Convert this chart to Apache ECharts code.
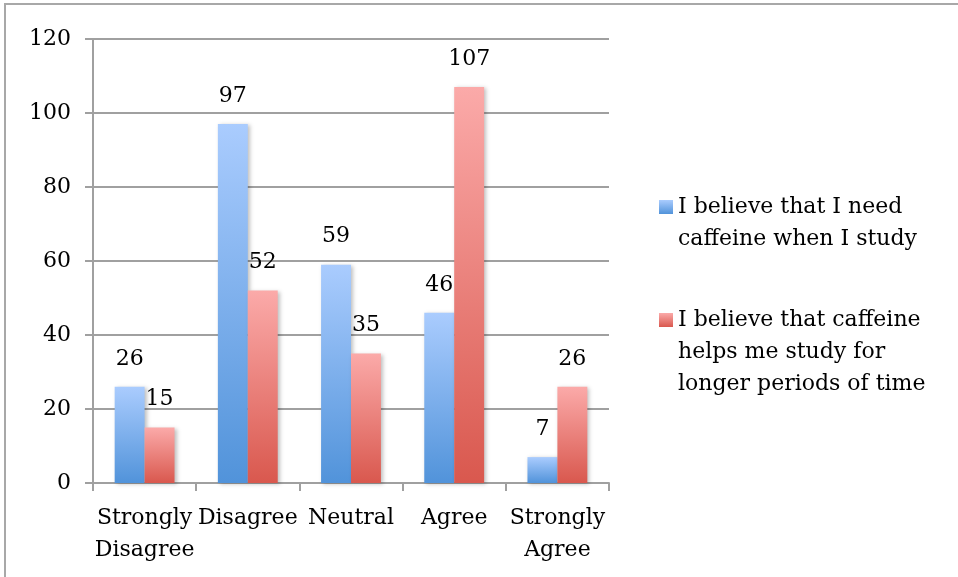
<!DOCTYPE html>
<html><head><meta charset="utf-8">
<script src="https://cdn.jsdelivr.net/npm/echarts@6/dist/echarts.min.js"></script>
<style>html,body{margin:0;padding:0;background:#fff}#c{width:958px;height:577px}</style>
</head><body><div id="c"></div>
<script>
var categories = ['Strongly\nDisagree', 'Disagree', 'Neutral', 'Agree', 'Strongly\nAgree'];
var seriesNames = ['I believe that I need caffeine when I study', 'I believe that caffeine helps me study for longer periods of time'];
var legendLabels = ['I believe that I need\ncaffeine when I study', 'I believe that caffeine\nhelps me study for\nlonger periods of time'];
var needValues = [26, 97, 59, 46, 7];
var helpsValues = [15, 52, 35, 107, 26];
var yTicks = [0, 20, 40, 60, 80, 100, 120];

var FONT = 'DejaVu Serif';
var FS = 22;
var grad = function (a, b) {
  return new echarts.graphic.LinearGradient(0, 0, 0, 1, [{offset: 0, color: a}, {offset: 1, color: b}]);
};
var colors = [grad('#AACCFE', '#5193DA'), grad('#FBAAA9', '#D9584E')];
var iconColors = [grad('#AACCFE', '#5193DA'), grad('#FBAAA9', '#D9584E')];

function mkLegend(i, top) {
  var lines = legendLabels[i].split('\n').length;
  var pad = new Array(lines).join('\n');
  return {
    left: 659, top: top, padding: 0, orient: 'vertical',
    itemWidth: 14, itemHeight: 14, itemGap: 0,
    icon: 'rect',
    data: [{name: seriesNames[i], itemStyle: {color: iconColors[i]}}],
    formatter: function () { return pad + legendLabels[i]; },
    textStyle: {fontFamily: FONT, fontSize: FS, color: '#000', lineHeight: 32},
    selectedMode: false
  };
}

var chart = echarts.init(document.getElementById('c'), null, {renderer: 'canvas'});
var labelCfg = {show: true, position: 'top', distance: 17, fontFamily: FONT, fontSize: FS, color: '#000'};
var bar = function (i, vals) {
  return {
    name: seriesNames[i], type: 'bar', data: vals,
    barGap: '0%', barCategoryGap: '42%',
    itemStyle: {color: colors[i], shadowColor: 'rgba(0,0,0,0.25)', shadowBlur: 4, shadowOffsetX: 2, shadowOffsetY: 1},
    label: labelCfg,
    emphasis: {disabled: true}
  };
};
chart.setOption({
  animation: false,
  backgroundColor: '#fff',
  graphic: [{type: 'rect', shape: {x: 5, y: 4, width: 1000, height: 1000}, style: {fill: 'none', stroke: '#a8a8a8', lineWidth: 2}, z: -1}],
  grid: {left: 93, right: 349, top: 39, bottom: 94},
  legend: [mkLegend(0, 159), mkLegend(1, 240)],
  xAxis: {
    type: 'category', data: categories,
    axisLine: {lineStyle: {color: '#a0a0a0', width: 2}},
    axisTick: {show: true, length: 8, lineStyle: {color: '#a0a0a0', width: 2}},
    axisLabel: {fontFamily: FONT, fontSize: FS, color: '#000', margin: 19, lineHeight: 32, interval: 0}
  },
  yAxis: {
    type: 'value', min: yTicks[0], max: yTicks[yTicks.length - 1], interval: 20,
    axisLine: {show: true, lineStyle: {color: '#a0a0a0', width: 2}},
    axisTick: {show: true, length: 8, lineStyle: {color: '#a0a0a0', width: 2}},
    splitLine: {lineStyle: {color: '#a0a0a0', width: 2}},
    axisLabel: {fontFamily: FONT, fontSize: FS, color: '#000', margin: 22, padding: [4, 0, 0, 0]}
  },
  series: [bar(0, needValues), bar(1, helpsValues)]
});
</script></body></html>
